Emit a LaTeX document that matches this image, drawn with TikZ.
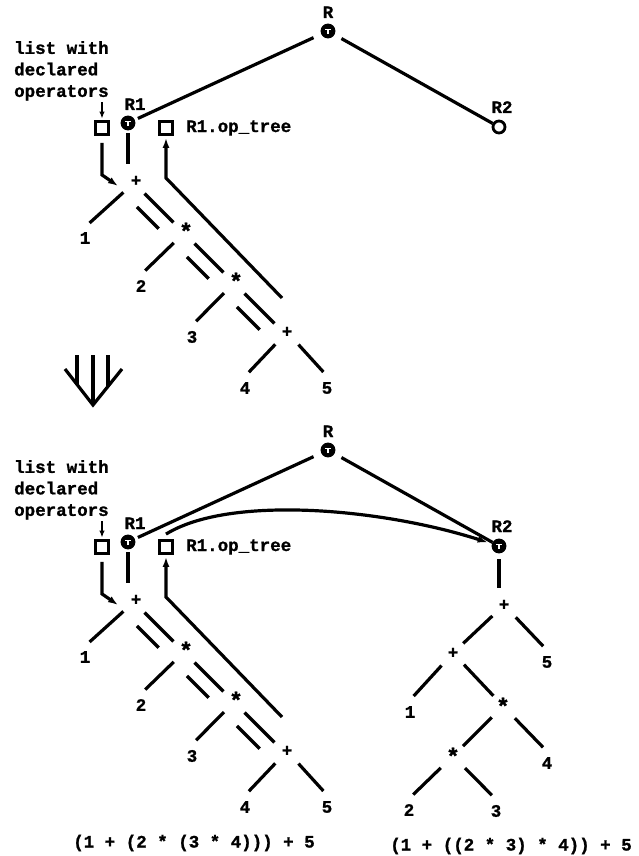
\documentclass[tikz,border=0pt]{standalone}
\usepackage{fontspec}
\setmonofont[BoldFeatures={FakeBold=1.2}]{Liberation Mono}
\usetikzlibrary{arrows.meta}

\tikzset{
  every node/.style={font=\ttfamily\bfseries\fontsize{17.5}{21.5}\selectfont, inner sep=0pt},
  opstar/.style={font=\ttfamily\bfseries\fontsize{23}{23}\selectfont},
  ln/.style={line width=3.2pt},
  br/.style={ln, shorten <=16pt, shorten >=14pt},
  leafbr/.style={ln, shorten <=17pt, shorten >=13.5pt},
  spineA/.style={ln, shorten <=15pt, shorten >=15pt, transform canvas={xshift=-2pt,yshift=-2pt}},
  spineB/.style={ln, shorten <=19pt, shorten >=21pt, transform canvas={xshift=-12.5pt,yshift=-12.5pt}},
  ptr/.style={ln, -{Latex[length=10pt,width=7pt]}},
  ptrs/.style={line width=2.6pt, -{Latex[length=7pt,width=5.5pt]}, shorten >=1.5pt},
  ref/.style={circle, draw, line width=2.8pt, minimum size=12pt},
  refset/.style={ref, fill=black,
    path picture={\draw[white, line width=1.1pt]
      ([xshift=-2.6pt,yshift=1.3pt]path picture bounding box.center) --
      ([xshift=2.6pt,yshift=1.3pt]path picture bounding box.center)
      ([yshift=1.3pt]path picture bounding box.center) --
      ([yshift=-3pt]path picture bounding box.center);}},
  box/.style={draw, line width=2.8pt, minimum size=13pt},
}

% root R, record R1 with its operator list and op_tree, and the parsed tree
\newcommand\drawleftpart[1]{%
  \node[refset] (#1R) at (328,31) {};
  \node[anchor=base] (#1RL) at (328,18) {R};
  \node[refset] (#1R1) at (128,123) {};
  \node[anchor=base] (#1R1L) at (135,110) {R1};
  \node[box] (#1lst) at (102,128) {};
  \node[box] (#1ot) at (166,128) {};
  \node[anchor=base west] (#1otL) at (186,132) {R1.op\_tree};
  \node[anchor=north west, align=left] (#1lstL) at (14,41) {list with\\declared\\operators};
  \node (#1pA) at (136,181) {+};
  \node[opstar] (#1sA) at (186,231) {*};
  \node[opstar] (#1sB) at (236,281) {*};
  \node (#1pB) at (287,332) {+};
  \node (#1l1) at (85,238) {1};
  \node (#1l2) at (141,286) {2};
  \node (#1l3) at (192,337) {3};
  \node (#1l4) at (245,388) {4};
  \node (#1l5) at (327,388) {5};
  \draw[ln, shorten <=8.5pt, shorten >=3.5pt] (#1R) -- (#1R1);
  \draw[ln, shorten <=3pt, shorten >=17pt] (#1R1) -- (#1R1 |- #1pA);
  \draw[ptrs] ([yshift=18pt]#1lst.north) -- (#1lst.north);
  \draw[ptr] ([yshift=-7pt]#1lst.south) -- ++(0,32) -- ([xshift=-18pt,yshift=-5pt]#1pA.center);
  \coordinate (#1otk) at ([xshift=31pt,yshift=3pt]#1pA.center);
  \draw[ptr, shorten >=2pt] ([xshift=-5pt,yshift=34pt]#1pB.center) -- (#1ot |- #1otk) -- (#1ot.south);
  \draw[spineA] (#1pA.center) -- (#1sA.center);
  \draw[spineB] (#1pA.center) -- (#1sA.center);
  \draw[spineA] (#1sA.center) -- (#1sB.center);
  \draw[spineB] (#1sA.center) -- (#1sB.center);
  \draw[spineA] (#1sB.center) -- (#1pB.center);
  \draw[spineB] (#1sB.center) -- (#1pB.center);
  \draw[leafbr] (#1pA.center) -- (#1l1.north west);
  \draw[leafbr] (#1sA.center) -- (#1l2.north west);
  \draw[leafbr] (#1sB.center) -- (#1l3.north west);
  \draw[leafbr] (#1pB.center) -- (#1l4.north west);
  \draw[leafbr] (#1pB.center) -- (#1l5.north east);
}

\begin{document}
\begin{tikzpicture}[x=1pt,y=-1pt]
\useasboundingbox (0,0) rectangle (639,856);

% before
\drawleftpart{t}
\node[ref] (tR2) at (499,127) {};
\node[anchor=base] (tR2L) at (502,113) {R2};
\draw[ln, shorten <=8pt] (tR) -- (tR2);

% transformation arrow
\draw[ln] (65,369) -- (93,405) -- (122,369);
\draw[ln] (77,355) -- (77,385) (93,355) -- (93,405) (108,355) -- (108,387);

% after
\begin{scope}[shift={(0,419)}]
  \drawleftpart{b}
  \node[refset] (bR2) at (499,127) {};
  \node[anchor=base] (bR2L) at (502,113) {R2};
  \draw[ln, shorten <=8pt] (bR) -- (bR2);
\end{scope}
\draw[ptr, shorten >=4.5pt] ([yshift=5pt]bot.north) .. controls +(63,-39) and +(-119,-38) .. (bR2);

% rebuilt tree under R2
\node (q1) at (504,605) {+};
\node (q2) at (453,653) {+};
\node[opstar] (q3) at (503,706) {*};
\node[opstar] (q4) at (453,756) {*};
\node (r5) at (547,662) {5};
\node (r1) at (410,712) {1};
\node (r4) at (547,763) {4};
\node (r2) at (409,810) {2};
\node (r3) at (496,811) {3};
\draw[ln, shorten <=6pt, shorten >=17pt] (bR2) -- (bR2 |- q1);
\draw[br] (q1.center) -- (q2.center);
\draw[leafbr] (q1.center) -- (r5.north east);
\draw[leafbr] (q2.center) -- (r1.north west);
\draw[br] (q2.center) -- (q3.center);
\draw[br] (q3.center) -- (q4.center);
\draw[leafbr] (q3.center) -- (r4.north east);
\draw[leafbr] (q4.center) -- (r2.north west);
\draw[leafbr] (q4.center) -- (r3.north east);

% resulting expressions
\node (f1) at (194,843) {(1 + (2 * (3 * 4))) + 5};
\node (f2) at (511,846) {(1 + ((2 * 3) * 4)) + 5};
\end{tikzpicture}
\end{document}
